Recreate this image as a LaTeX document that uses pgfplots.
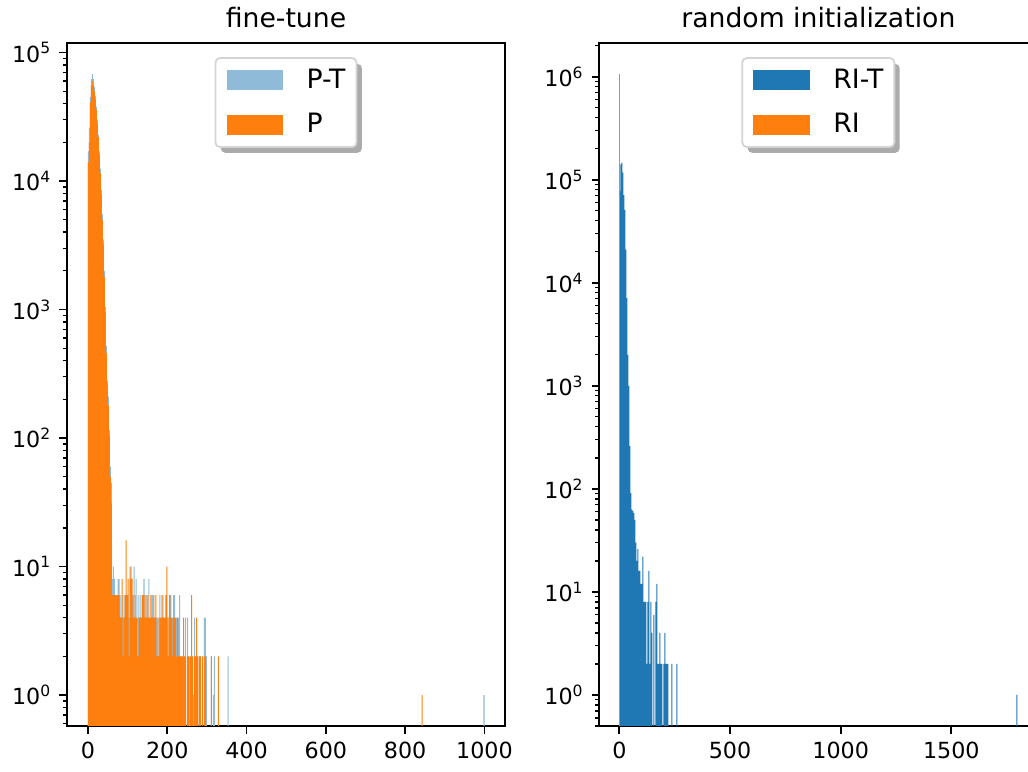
\documentclass[border=0pt]{standalone}
\usepackage{fontspec}
\setmainfont{DejaVu Sans}
\usepackage{pgfplots}
\usepackage{pgfplotstable}
\pgfplotsset{compat=1.18}
\usetikzlibrary{shadows}
\definecolor{tabblue}{HTML}{1F77B4}
\definecolor{taborange}{HTML}{FF7F0E}
\definecolor{ltblue}{HTML}{8FBBD9}
\makeatletter
\tikzset{nopreactions/.code={\let\tikz@preactions\pgfutil@empty}}
\makeatother

\pgfplotstableread{
x y
1.25 17000
3.75 26000
6.25 45000
8.75 62000
11.25 68000
13.75 62000
16.25 54000
18.75 46000
21.25 38000
23.75 30000
26.25 23000
28.75 17000
31.25 12500
33.75 8500
36.25 5500
38.75 3500
41.25 2000
43.75 1050
46.25 520
48.75 280
51.25 210
53.75 115
56.25 60
58.75 45
61.25 8
63.75 10
66.25 8
68.75 6
71.25 4
73.75 6
76.25 8
78.75 8
81.25 6
83.75 4
86.25 6
88.75 4
91.25 6
93.75 4
96.25 6
98.75 4
101.25 6
103.75 4
106.25 8
108.75 10
111.25 6
113.75 6
116.25 10
118.75 4
121.25 8
123.75 2
126.25 6
128.75 4
131.25 6
133.75 4
136.25 4
138.75 4
141.25 8
143.75 2
146.25 4
148.75 6
151.25 4
153.75 8
156.25 2
158.75 4
161.25 6
163.75 6
166.25 2
168.75 4
171.25 4
173.75 4
176.25 2
178.75 4
181.25 6
183.75 2
186.25 6
188.75 4
191.25 2
193.75 4
196.25 2
198.75 4
201.25 4
203.75 2
206.25 4
208.75 6
211.25 2
213.75 4
216.25 6
218.75 6
221.25 2
223.75 4
226.25 2
228.75 4
231.25 6
233.75 2
236.25 2
241.25 2
243.75 2
246.25 4
251.25 4
253.75 2
256.25 2
263.75 2
266.25 1
268.75 4
271.25 2
276.25 2
281.25 2
283.75 2
293.75 4
296.25 4
298.75 2
311.25 2
316.25 1
318.75 2
353.75 2
999 1
}\tablePT

\pgfplotstableread{
x y
1.25 14000
3.75 20000
6.25 41000
8.75 55000
11.25 60000
13.75 56000
16.25 50000
18.75 43000
21.25 36000
23.75 28000
26.25 22000
28.75 16000
31.25 11500
33.75 7800
36.25 5000
38.75 3200
41.25 1800
43.75 950
46.25 460
48.75 260
51.25 180
53.75 105
56.25 50
58.75 31
61.25 6
63.75 6
66.25 6
68.75 6
71.25 6
73.75 6
76.25 6
78.75 6
81.25 4
83.75 4
86.25 8
88.75 2
91.25 4
93.75 6
96.25 16
98.75 6
101.25 8
103.75 2
106.25 10
108.75 8
111.25 8
113.75 4
116.25 4
118.75 6
121.25 4
123.75 4
126.25 2
128.75 4
131.25 4
133.75 4
136.25 6
138.75 6
141.25 6
143.75 4
146.25 6
148.75 4
151.25 6
153.75 4
156.25 4
158.75 6
161.25 4
163.75 4
166.25 6
168.75 4
171.25 6
173.75 2
176.25 4
178.75 2
181.25 4
183.75 4
186.25 4
188.75 6
191.25 4
193.75 4
196.25 6
198.75 10
201.25 2
203.75 4
206.25 6
208.75 4
211.25 4
213.75 2
216.25 4
218.75 4
221.25 4
223.75 2
226.25 4
228.75 2
231.25 2
233.75 2
236.25 2
238.75 2
241.25 4
243.75 2
246.25 2
251.25 2
253.75 2
258.75 2
261.25 6
263.75 2
268.75 2
271.25 2
273.75 4
276.25 2
281.25 2
283.75 2
288.75 2
293.75 2
296.25 2
311.25 2
328.75 2
843 1
}\tableP

\pgfplotstableread{
x y
2.26 78000
6.78 141000
11.30 146000
15.82 117000
20.34 71000
24.86 51000
29.38 21000
33.90 7100
38.42 2000
42.94 1000
47.46 260
51.98 91
56.50 63
61.02 61
65.54 58
70.06 50
74.58 30
79.10 20
83.62 26
88.14 16
92.66 16
97.18 12
101.70 12
106.22 22
110.74 8
115.26 8
119.78 8
124.30 2
128.82 8
133.34 16
137.86 2
142.38 8
146.90 4
155.94 6
164.98 8
169.50 12
174.02 2
178.54 2
183.06 4
187.58 2
192.10 2
201.14 2
205.66 4
210.18 2
214.70 2
219.22 2
237.30 2
259.90 2
1796 1
}\tableRIT

\pgfplotstableread{
x y
0.5 1060000
}\tableRI

\begin{document}
\begin{tikzpicture}
\useasboundingbox (0,0) rectangle (462.6pt,347.4pt);
\begin{axis}[at={(30.15pt,20.7pt)}, anchor=south west,
  scale only axis, width=197.1pt, height=307.35pt,
  ymode=log, log origin=infty,
  xmin=-53, xmax=1052, ymin=0.574, ymax=1.186e5,
  xtick={0,200,400,600,800,1000},
  xticklabels={0,200,400,600,800,1000},
  ytick={1,10,100,1000,10000,100000},
  yticklabels={10\textsuperscript{0},10\textsuperscript{1},10\textsuperscript{2},10\textsuperscript{3},10\textsuperscript{4},10\textsuperscript{5}},
  minor ytick={0.6,0.7,0.8,0.9,2,3,4,5,6,7,8,9,20,30,40,50,60,70,80,90,200,300,400,500,600,700,800,900,2000,3000,4000,5000,6000,7000,8000,9000,20000,30000,40000,50000,60000,70000,80000,90000},
  tick align=outside, xtick pos=bottom, ytick pos=left,
  major tick length=3.5pt, minor tick length=2pt,
  every tick/.append style={black, line width=0.8pt},
  every minor tick/.append style={line width=0.6pt},
  axis line style={line width=0.8pt},
  tick label style={font=\fontsize{10}{12}\selectfont},
  title={fine-tune},
  every axis title shift=0pt,
  title style={font=\fontsize{12}{14}\selectfont, at={(0.5,1)}, anchor=base, yshift=6.75pt},
  legend style={at={(0.5,1)}, anchor=north, yshift=-6.4pt,
      draw=black!17, line width=0.8pt, rounded corners=2pt, fill=white,
      font=\fontsize{12}{14}\selectfont,
      inner xsep=3pt, inner ysep=2.8pt, row sep=5.9pt,
      drop shadow={shadow xshift=2.4pt, shadow yshift=-2.6pt, fill=black!33, opacity=1},
      /tikz/every odd column/.append style={column sep=8.5pt}},
  legend cell align=left,
  legend image code/.code={\path (0pt,0pt); \fill[#1, sharp corners, nopreactions] (2pt,-4.5pt) rectangle (27.5pt,4.5pt);},
  ]
\addplot[ybar, bar width=2.6, bar shift=0pt, fill=ltblue, draw=none] table[x=x,y=y] {\tablePT};
\addlegendentry{P-T}
\addplot[ybar, bar width=2.6, bar shift=0pt, fill=taborange, draw=none] table[x=x,y=y] {\tableP};
\addlegendentry{P}
\end{axis}
\begin{axis}[at={(269.7pt,20.7pt)}, anchor=south west,
  scale only axis, width=197.1pt, height=307.35pt,
  ymode=log, log origin=infty,
  xmin=-90.4, xmax=1888.6, ymin=0.5, ymax=2.12e6,
  xtick={0,500,1000,1500},
  xticklabels={0,500,1000,1500},
  ytick={1,10,100,1000,10000,100000,1000000},
  yticklabels={10\textsuperscript{0},10\textsuperscript{1},10\textsuperscript{2},10\textsuperscript{3},10\textsuperscript{4},10\textsuperscript{5},10\textsuperscript{6}},
  minor ytick={0.5,0.6,0.7,0.8,0.9,2,3,4,5,6,7,8,9,20,30,40,50,60,70,80,90,200,300,400,500,600,700,800,900,2000,3000,4000,5000,6000,7000,8000,9000,20000,30000,40000,50000,60000,70000,80000,90000,200000,300000,400000,500000,600000,700000,800000,900000,2000000},
  tick align=outside, xtick pos=bottom, ytick pos=left,
  major tick length=3.5pt, minor tick length=2pt,
  every tick/.append style={black, line width=0.8pt},
  every minor tick/.append style={line width=0.6pt},
  axis line style={line width=0.8pt},
  tick label style={font=\fontsize{10}{12}\selectfont},
  title={random initialization},
  every axis title shift=0pt,
  title style={font=\fontsize{12}{14}\selectfont, at={(0.5,1)}, anchor=base, yshift=6.75pt},
  legend style={at={(0.5,1)}, anchor=north, yshift=-6.4pt,
      draw=black!17, line width=0.8pt, rounded corners=2pt, fill=white,
      font=\fontsize{12}{14}\selectfont,
      inner xsep=3pt, inner ysep=2.8pt, row sep=5.9pt,
      drop shadow={shadow xshift=2.4pt, shadow yshift=-2.6pt, fill=black!33, opacity=1},
      /tikz/every odd column/.append style={column sep=8.5pt}},
  legend cell align=left,
  legend image code/.code={\path (0pt,0pt); \fill[#1, sharp corners, nopreactions] (2pt,-4.5pt) rectangle (27.5pt,4.5pt);},
  ]
\addplot[ybar, bar width=4.6, bar shift=0pt, fill=tabblue, draw=none] table[x=x,y=y] {\tableRIT};
\addlegendentry{RI-T}
\addplot[ybar, bar width=4, bar shift=0pt, fill=taborange, draw=none] table[x=x,y=y] {\tableRI};
\addlegendentry{RI}
\end{axis}
\end{tikzpicture}
\end{document}
